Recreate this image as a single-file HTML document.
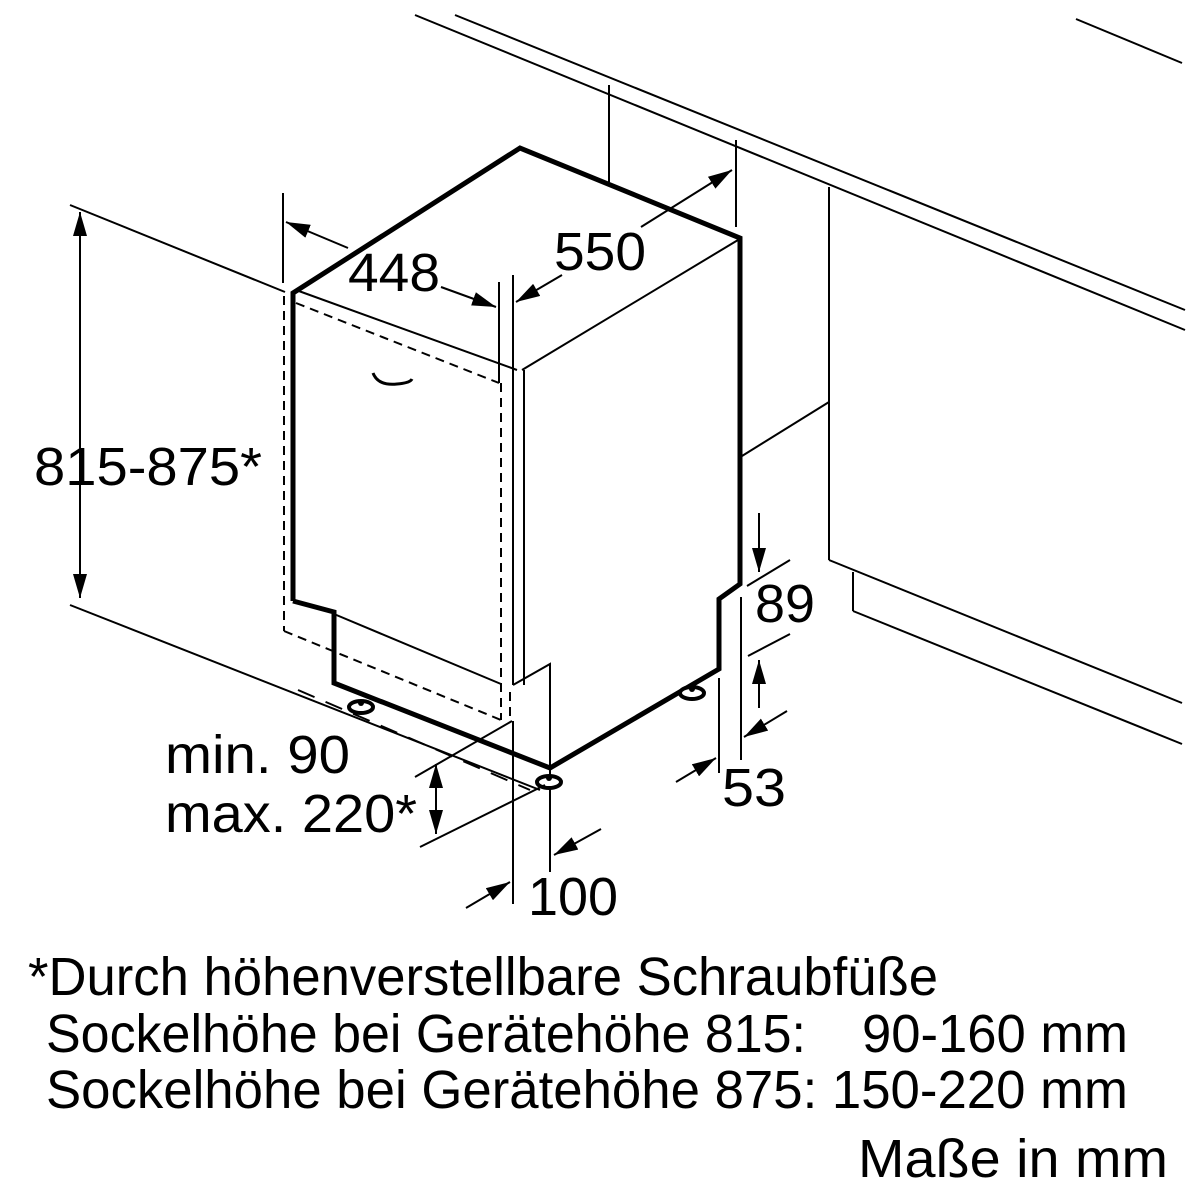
<!DOCTYPE html>
<html><head><meta charset="utf-8"><style>html,body{margin:0;padding:0;background:#fff}svg{display:block}</style></head>
<body>
<svg width="1200" height="1200" viewBox="0 0 1200 1200" xmlns="http://www.w3.org/2000/svg">
<defs>
<marker id="a" viewBox="0 0 24 14" refX="24" refY="7" markerWidth="24" markerHeight="14" markerUnits="userSpaceOnUse" orient="auto-start-reverse"><path d="M0,0 L24,7 L0,14 z" fill="#000"/></marker>
</defs>
<g fill="none" stroke="#000" stroke-width="2">
<line x1="455" y1="15" x2="1185" y2="310"/>
<line x1="415" y1="15" x2="1185" y2="330"/>
<line x1="1076" y1="19" x2="1182" y2="63"/>
<line x1="609" y1="85" x2="609" y2="182"/>
<line x1="829" y1="187" x2="829" y2="560"/>
<line x1="829" y1="560" x2="1182" y2="703"/>
<line x1="853" y1="572" x2="853" y2="611"/>
<line x1="853" y1="611" x2="1182" y2="744"/>
<line x1="742" y1="456" x2="829" y2="402"/>
<line x1="70" y1="205" x2="285" y2="292"/>
<line x1="70" y1="605" x2="540" y2="790"/>
<line x1="80" y1="212" x2="80" y2="598" marker-start="url(#a)" marker-end="url(#a)"/>
<line x1="283" y1="193" x2="283" y2="283"/>
<line x1="348" y1="248" x2="286" y2="222" marker-end="url(#a)"/>
<line x1="441" y1="287" x2="496" y2="307" marker-end="url(#a)"/>
<line x1="499" y1="282" x2="499" y2="383"/>
<line x1="513" y1="275" x2="513" y2="685"/>
<line x1="562" y1="275" x2="516" y2="302" marker-end="url(#a)"/>
<line x1="641" y1="227" x2="732" y2="170" marker-end="url(#a)"/>
<line x1="736" y1="140" x2="736" y2="227"/>
<line x1="296" y1="290" x2="517" y2="370"/>
<line x1="522" y1="370" x2="738" y2="240"/>
<line x1="524" y1="370" x2="524" y2="685"/>
<line x1="334" y1="614" x2="501" y2="684"/>
<polyline points="513,685 550,664 550,872"/>
<line x1="513" y1="721" x2="513" y2="904"/>
<path d="M373,373 Q378,386 397,384 Q410,383 412,379" stroke-width="3"/>
</g>
<g fill="none" stroke="#000" stroke-width="2" stroke-dasharray="9,6">
<line x1="296" y1="303" x2="499" y2="383"/>
<line x1="284" y1="296" x2="284" y2="631"/>
<line x1="284" y1="631" x2="501" y2="720"/>
<line x1="501" y1="383" x2="501" y2="720"/>
<line x1="510" y1="692" x2="510" y2="722"/>
</g>
<g fill="none" stroke="#000" stroke-width="2" stroke-dasharray="18,12">
<line x1="298" y1="690" x2="530" y2="790"/>
</g>
<g fill="none" stroke="#000" stroke-width="5" stroke-linejoin="miter">
<polyline points="293,601 293,293 520,148 740,238 740,584 719,599 719,669 550,768 334,683 334,612 293,601"/>
</g>
<g fill="#fff" stroke="#000" stroke-width="4">
<ellipse cx="361" cy="707" rx="12" ry="6"/>
<ellipse cx="549" cy="782" rx="12" ry="6"/>
<ellipse cx="692" cy="693" rx="12" ry="6"/>
</g>
<g fill="#000"><circle cx="361" cy="703" r="3"/><circle cx="549" cy="778" r="3"/><circle cx="692" cy="689" r="3"/></g>
<g fill="none" stroke="#000" stroke-width="2">
<line x1="415" y1="777" x2="512" y2="721"/>
<line x1="420" y1="847" x2="545" y2="785"/>
<line x1="436" y1="764" x2="436" y2="834" marker-start="url(#a)" marker-end="url(#a)"/>
<line x1="466" y1="908" x2="510" y2="882" marker-end="url(#a)"/>
<line x1="601" y1="829" x2="554" y2="855" marker-end="url(#a)"/>
<line x1="719" y1="678" x2="719" y2="773"/>
<line x1="676" y1="782" x2="716" y2="758" marker-end="url(#a)"/>
<line x1="741" y1="597" x2="741" y2="760"/>
<line x1="759" y1="513" x2="759" y2="572" marker-end="url(#a)"/>
<line x1="747" y1="586" x2="790" y2="560"/>
<line x1="748" y1="656" x2="790" y2="634"/>
<line x1="759" y1="708" x2="759" y2="660" marker-end="url(#a)"/>
<line x1="787" y1="711" x2="744" y2="737" marker-end="url(#a)"/>
</g>
<g font-family="'Liberation Sans', Arial, sans-serif" font-size="54" fill="#000">
<text x="348" y="291" textLength="92" lengthAdjust="spacingAndGlyphs">448</text>
<text x="554" y="270" textLength="92" lengthAdjust="spacingAndGlyphs">550</text>
<text x="34" y="485" textLength="228" lengthAdjust="spacingAndGlyphs">815-875*</text>
<text x="165" y="773" textLength="185" lengthAdjust="spacingAndGlyphs">min. 90</text>
<text x="165" y="832" textLength="252" lengthAdjust="spacingAndGlyphs">max. 220*</text>
<text x="755" y="622" textLength="60" lengthAdjust="spacingAndGlyphs">89</text>
<text x="722" y="806" textLength="64" lengthAdjust="spacingAndGlyphs">53</text>
<text x="528" y="915" textLength="90" lengthAdjust="spacingAndGlyphs">100</text>
<text x="28" y="995" textLength="910" lengthAdjust="spacingAndGlyphs">*Durch höhenverstellbare Schraubfüße</text>
<text x="46" y="1052" textLength="760" lengthAdjust="spacingAndGlyphs">Sockelhöhe bei Gerätehöhe 815:</text>
<text x="862" y="1052" textLength="266" lengthAdjust="spacingAndGlyphs">90-160 mm</text>
<text x="46" y="1108" textLength="1082" lengthAdjust="spacingAndGlyphs">Sockelhöhe bei Gerätehöhe 875: 150-220 mm</text>
<text x="858" y="1177" textLength="310" lengthAdjust="spacingAndGlyphs">Maße in mm</text>
</g>
</svg>
</body></html>
